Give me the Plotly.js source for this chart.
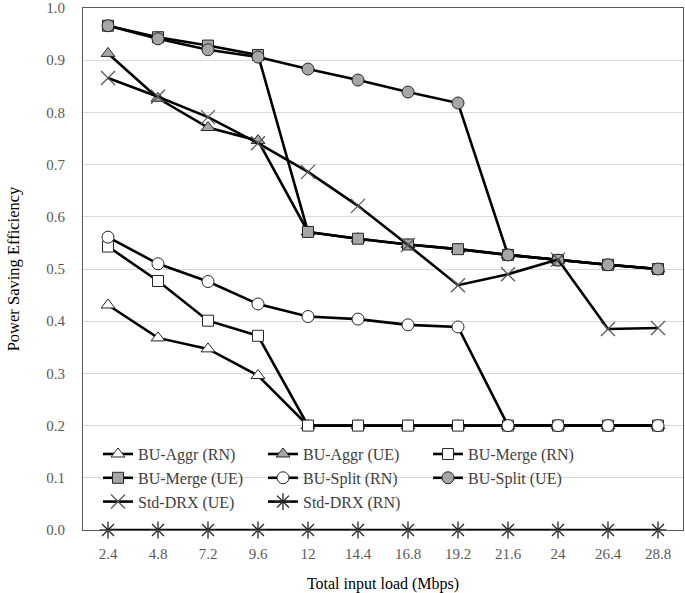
<!DOCTYPE html>
<html>
<head>
<meta charset="utf-8">
<script src="https://cdn.plot.ly/plotly-3.0.1.min.js"></script>
<style>html,body{margin:0;padding:0;background:#fff;}#chart{width:685px;height:593px;}</style>
</head>
<body>
<div id="chart"></div>
<script>
const loads = ["2.4","4.8","7.2","9.6","12","14.4","16.8","19.2","21.6","24","26.4","28.8"];
const aggrRN  = [0.431,0.368,0.347,0.296,0.2,0.2,0.2,0.2,0.2,0.2,0.2,0.2];
const aggrUE  = [0.913,0.827,0.771,0.746,0.571,0.558,0.547,0.538,0.527,0.517,0.508,0.500];
const mergeRN = [0.543,0.477,0.401,0.372,0.2,0.2,0.2,0.2,0.2,0.2,0.2,0.2];
const mergeUE = [0.966,0.944,0.928,0.910,0.571,0.558,0.547,0.538,0.527,0.517,0.508,0.500];
const splitRN = [0.561,0.510,0.476,0.433,0.409,0.404,0.393,0.389,0.2,0.2,0.2,0.2];
const splitUE = [0.966,0.941,0.920,0.906,0.883,0.862,0.839,0.818,0.527,0.517,0.508,0.500];
const drxUE   = [0.866,0.830,0.791,0.741,0.686,0.621,0.546,0.469,0.490,0.518,0.385,0.387];
const drxRN   = [0,0,0,0,0,0,0,0,0,0,0,0];

const names = ["BU-Aggr (RN)","BU-Aggr (UE)","BU-Merge (RN)","BU-Merge (UE)","BU-Split (RN)","BU-Split (UE)","Std-DRX (UE)","Std-DRX (RN)"];
const series = [aggrRN, aggrUE, mergeRN, mergeUE, splitRN, splitUE, drxUE, drxRN];
const symbols = ["triangle-up","triangle-up","square","square","circle","circle","x-thin","asterisk"];
const fills = ["#ffffff","#a6a6a6","#ffffff","#a6a6a6","#ffffff","#a6a6a6","#595959","#262626"];
const sizes = [12,12,11,11,12,12,14,14];

const traces = series.map((ys,i)=>{
  const thin = symbols[i]==="x-thin"||symbols[i]==="asterisk";
  return {
    type:"scatter", mode:"lines+markers", x:loads, y:ys, name:names[i],
    cliponaxis:false,
    line:{color:"#000000", width:2.6},
    marker:{symbol:symbols[i], size:sizes[i], color:fills[i],
      line:{color: thin ? fills[i] : "#262626", width: thin ? 1.3 : 1}}
  };
});

const layout = {
  width:685, height:593,
  margin:{l:83, r:2, t:8, b:63},
  paper_bgcolor:"#ffffff", plot_bgcolor:"#ffffff",
  font:{family:"Liberation Serif, Times New Roman, serif", size:16, color:"#000000"},
  showlegend:true,
  legend:{orientation:"h", x:0.025, xanchor:"left", y:0.178, yanchor:"top",
    entrywidth:120, entrywidthmode:"pixels", bgcolor:"rgba(0,0,0,0)", itemwidth:30,
    font:{family:"Liberation Serif, Times New Roman, serif", size:16, color:"#404040"}, traceorder:"normal"},
  xaxis:{type:"category", range:[-0.5,11.5], showgrid:false, zeroline:false,
    showline:true, linecolor:"#595959", linewidth:1, mirror:true,
    ticks:"", ticklabelstandoff:10,
    tickfont:{family:"Liberation Serif, Times New Roman, serif", size:15, color:"#595959"},
    title:{text:"Total input load (Mbps)", standoff:16, font:{size:16, color:"#000000"}}},
  yaxis:{range:[0,1], dtick:0.1, tick0:0, tickformat:".1f", showgrid:true, gridcolor:"#d9d9d9", gridwidth:1,
    zeroline:false, showline:true, linecolor:"#595959", linewidth:1, mirror:true,
    ticks:"", ticklabelstandoff:14,
    tickfont:{family:"Liberation Serif, Times New Roman, serif", size:15, color:"#595959"},
    title:{text:"Power Saving Efficiency", standoff:22, font:{size:16.5, color:"#000000"}}}
};

Plotly.newPlot("chart", traces, layout, {displayModeBar:false, staticPlot:true});
</script>
</body>
</html>
